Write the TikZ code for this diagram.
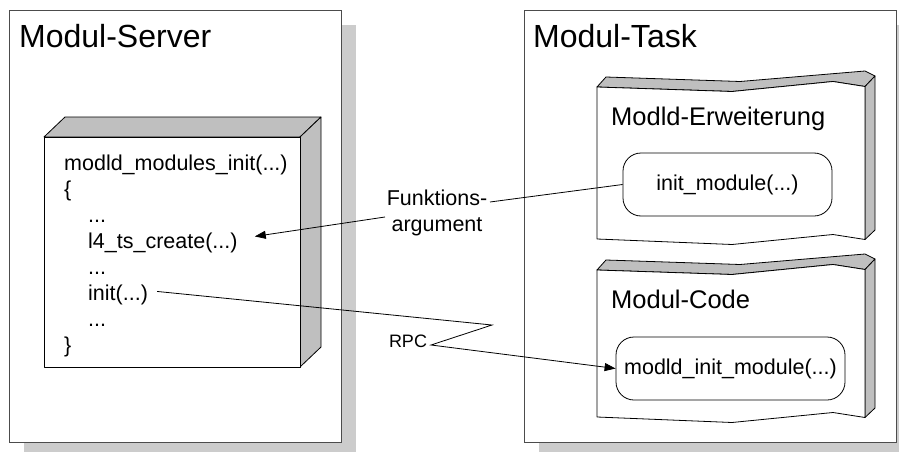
\documentclass[tikz,border=0pt]{standalone}
\usepackage{fontspec}
\setmainfont{Liberation Sans}
\usetikzlibrary{arrows.meta}

% wavy component box: #1 = y of the front top-left corner, #2 = y of the front bottom-left corner
\newcommand\wavebox[2]{%
  % top face
  \filldraw[face] (597,#1) -- (732,{#1+4.5}) -- (833,{#1-5.5}) -- (865,{#1-0.5})
      -- (875,{#1-11}) -- (865,{#1-16}) -- (740,{#1-5.5}) -- (606,{#1-10}) -- cycle;
  % right face
  \filldraw[face] (865,{#1-0.5}) -- (875,{#1-11}) -- (875,{#2-9}) -- (865,{#2+0.5}) -- cycle;
  % front face
  \filldraw[front] (597,#1) -- (732,{#1+4.5}) -- (833,{#1-5.5}) -- (865,{#1-0.5})
      -- (865,{#2+0.5}) -- (833,{#2-4.5}) -- (732,{#2+5.5}) -- (597,#2) -- cycle;
}

\tikzset{
  pkg/.style={draw=black!70, line width=0.9pt, fill=white},
  shadowfill/.style={fill=black!20},
  face/.style={fill=black!25, draw=black, line width=0.8pt, line join=round},
  front/.style={fill=white, draw=black, line width=0.8pt, line join=round},
  pkgtitle/.style={font=\fontsize{32}{38}\selectfont, anchor=base west, inner sep=0pt},
  comptitle/.style={font=\fontsize{25.5}{30}\selectfont, anchor=base west, inner sep=0pt},
  code/.style={font=\fontsize{21.5}{25}\selectfont, anchor=base west, inner sep=0pt},
  fn/.style={draw=black, line width=0.8pt, rounded corners=18pt, fill=white,
    font=\fontsize{21.5}{25}\selectfont, minimum height=63pt, inner sep=0pt},
  lbl/.style={font=\fontsize{21.5}{26}\selectfont, align=center, inner sep=0pt},
  rpclbl/.style={font=\fontsize{18}{22}\selectfont, inner sep=0pt},
  link/.style={draw=black, line width=0.8pt},
  arr/.style={link, -{Triangle[length=11pt,width=8pt]}},
}

\begin{document}
\begin{tikzpicture}[x=1pt, y=-1pt]
\useasboundingbox (0,0) rectangle (899,452);
\clip (0,0) rectangle (899,452);

% package shadows
\fill[shadowfill] (24,25) rectangle (356,458);
\fill[shadowfill] (539,25) rectangle (912,458);

% packages
\filldraw[pkg] (9,10) rectangle (341,442);
\filldraw[pkg] (524,10) rectangle (896,442);
\node[pkgtitle] (srvtitle) at (19,48) {Modul-Server};
\node[pkgtitle] (tasktitle) at (533,48) {Modul-Task};

% 3D node inside the server
\filldraw[face] (44,137) -- (65,117) -- (321,117) -- (300,137) -- cycle;
\filldraw[face] (300,137) -- (321,117) -- (321,347) -- (300,367) -- cycle;
\filldraw[front] (44,137) rectangle (300,367);

\node[code] (l1) at (64,170) {modld\_modules\_init(...)};
\node[code] (l2) at (64,196) {\{};
\node[code] (l3) at (88,222) {...};
\node[code] (l4) at (88,248) {l4\_ts\_create(...)};
\node[code] (l5) at (88,274) {...};
\node[code] (init) at (88,300) {init(...)};
\node[code] (l7) at (88,326) {...};
\node[code] (l8) at (64,352) {\}};

% components of the task
\wavebox{87}{239}
\wavebox{270}{417}
\node[comptitle] (ext) at (611,125) {Modld-Erweiterung};
\node[comptitle] (mcode) at (611,308) {Modul-Code};

\node[fn, minimum width=209pt] (initmod) at (727.5,184.5) {init\_module(...)};
\node[fn, minimum width=229pt] (modinit) at (730.5,368.5) {modld\_init\_module(...)};

% labels
\node[lbl, anchor=base] (fa) at (437,231.7) {Funktions-\\argument};
\node[rpclbl] (rpc) at (408,341) {RPC};

% connectors
\coordinate (fa-in) at (490,202);
\coordinate (fa-out) at (385,217);
\coordinate (rpc-a) at (492,325);
\coordinate (rpc-b) at (431,345);

\draw[link] (initmod.west) -- (fa-in);
\draw[arr] (fa-out) -- ([xshift=17pt,yshift=6pt]l4.east);
\draw[arr] ([xshift=9pt,yshift=3pt]init.east) -- (rpc-a) -- (rpc-b) -- (modinit.west);
\end{tikzpicture}
\end{document}
